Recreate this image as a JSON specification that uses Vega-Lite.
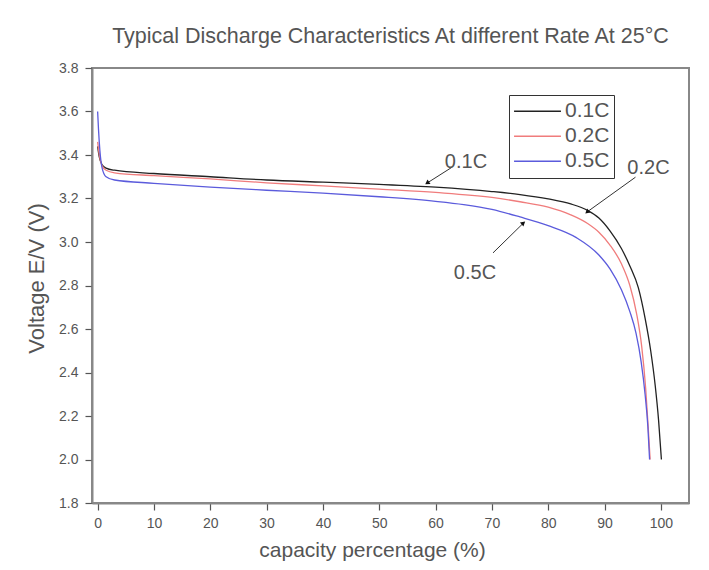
{
  "$schema": "https://vega.github.io/schema/vega-lite/v6.json",
  "autosize": "none",
  "width": 597,
  "height": 435,
  "padding": {"left": 92, "top": 68, "right": 20, "bottom": 67},
  "background": "white",
  "config": {
    "font": "Liberation Sans",
    "view": {"stroke": "#888", "strokeWidth": 2},
    "axis": {"grid": false, "domainColor": "#888", "domainWidth": 2, "tickColor": "#555", "tickWidth": 1.2, "labelColor": "#555", "labelFontSize": 14, "titleColor": "#555", "titleFontSize": 21, "titleFontWeight": "normal"}
  },
  "title": {"text": "Typical Discharge Characteristics At different Rate At 25°C", "fontSize": 21.5, "fontWeight": "normal", "color": "#555", "offset": 14},
  "datasets": {
    "curves": [
      {"rate": "0.1C", "cap": 0, "v": 3.44}, {"rate": "0.1C", "cap": 0.3, "v": 3.39}, {"rate": "0.1C", "cap": 0.8, "v": 3.355}, {"rate": "0.1C", "cap": 1.5, "v": 3.34}, {"rate": "0.1C", "cap": 3, "v": 3.33}, {"rate": "0.1C", "cap": 10, "v": 3.315}, {"rate": "0.1C", "cap": 20, "v": 3.3}, {"rate": "0.1C", "cap": 30, "v": 3.285}, {"rate": "0.1C", "cap": 40, "v": 3.275}, {"rate": "0.1C", "cap": 50, "v": 3.265}, {"rate": "0.1C", "cap": 60, "v": 3.252}, {"rate": "0.1C", "cap": 70, "v": 3.232}, {"rate": "0.1C", "cap": 75, "v": 3.218}, {"rate": "0.1C", "cap": 80, "v": 3.198}, {"rate": "0.1C", "cap": 84, "v": 3.175}, {"rate": "0.1C", "cap": 87, "v": 3.145}, {"rate": "0.1C", "cap": 89, "v": 3.11}, {"rate": "0.1C", "cap": 91, "v": 3.05}, {"rate": "0.1C", "cap": 93, "v": 2.97}, {"rate": "0.1C", "cap": 94.5, "v": 2.89}, {"rate": "0.1C", "cap": 96, "v": 2.79}, {"rate": "0.1C", "cap": 97.2, "v": 2.65}, {"rate": "0.1C", "cap": 98.2, "v": 2.5}, {"rate": "0.1C", "cap": 99, "v": 2.34}, {"rate": "0.1C", "cap": 99.6, "v": 2.18}, {"rate": "0.1C", "cap": 100.1, "v": 2.0},
      {"rate": "0.2C", "cap": 0, "v": 3.46}, {"rate": "0.2C", "cap": 0.3, "v": 3.4}, {"rate": "0.2C", "cap": 0.8, "v": 3.35}, {"rate": "0.2C", "cap": 1.5, "v": 3.33}, {"rate": "0.2C", "cap": 3, "v": 3.318}, {"rate": "0.2C", "cap": 10, "v": 3.305}, {"rate": "0.2C", "cap": 20, "v": 3.29}, {"rate": "0.2C", "cap": 30, "v": 3.272}, {"rate": "0.2C", "cap": 40, "v": 3.258}, {"rate": "0.2C", "cap": 50, "v": 3.243}, {"rate": "0.2C", "cap": 60, "v": 3.228}, {"rate": "0.2C", "cap": 70, "v": 3.205}, {"rate": "0.2C", "cap": 75, "v": 3.185}, {"rate": "0.2C", "cap": 80, "v": 3.16}, {"rate": "0.2C", "cap": 84, "v": 3.125}, {"rate": "0.2C", "cap": 87, "v": 3.085}, {"rate": "0.2C", "cap": 89, "v": 3.045}, {"rate": "0.2C", "cap": 91, "v": 2.985}, {"rate": "0.2C", "cap": 93, "v": 2.9}, {"rate": "0.2C", "cap": 94.5, "v": 2.8}, {"rate": "0.2C", "cap": 95.7, "v": 2.67}, {"rate": "0.2C", "cap": 96.6, "v": 2.52}, {"rate": "0.2C", "cap": 97.3, "v": 2.33}, {"rate": "0.2C", "cap": 97.8, "v": 2.13}, {"rate": "0.2C", "cap": 98.1, "v": 2.0},
      {"rate": "0.5C", "cap": 0, "v": 3.6}, {"rate": "0.5C", "cap": 0.15, "v": 3.52}, {"rate": "0.5C", "cap": 0.4, "v": 3.42}, {"rate": "0.5C", "cap": 0.8, "v": 3.34}, {"rate": "0.5C", "cap": 1.5, "v": 3.3}, {"rate": "0.5C", "cap": 3, "v": 3.285}, {"rate": "0.5C", "cap": 10, "v": 3.27}, {"rate": "0.5C", "cap": 20, "v": 3.252}, {"rate": "0.5C", "cap": 30, "v": 3.238}, {"rate": "0.5C", "cap": 40, "v": 3.225}, {"rate": "0.5C", "cap": 50, "v": 3.208}, {"rate": "0.5C", "cap": 60, "v": 3.187}, {"rate": "0.5C", "cap": 65, "v": 3.172}, {"rate": "0.5C", "cap": 70, "v": 3.15}, {"rate": "0.5C", "cap": 75, "v": 3.115}, {"rate": "0.5C", "cap": 80, "v": 3.075}, {"rate": "0.5C", "cap": 85, "v": 3.02}, {"rate": "0.5C", "cap": 89, "v": 2.94}, {"rate": "0.5C", "cap": 91, "v": 2.875}, {"rate": "0.5C", "cap": 93, "v": 2.78}, {"rate": "0.5C", "cap": 94.5, "v": 2.68}, {"rate": "0.5C", "cap": 95.6, "v": 2.58}, {"rate": "0.5C", "cap": 96.5, "v": 2.45}, {"rate": "0.5C", "cap": 97.2, "v": 2.3}, {"rate": "0.5C", "cap": 97.7, "v": 2.15}, {"rate": "0.5C", "cap": 98.0, "v": 2.0}
    ],
    "notes": [
      {"label": "0.1C", "tx": 65.4, "ty": 3.368, "x1": 63.0, "y1": 3.345, "x2": 58.5, "y2": 3.271, "ang": 235},
      {"label": "0.2C", "tx": 97.8, "ty": 3.34, "x1": 95.5, "y1": 3.298, "x2": 86.9, "y2": 3.138, "ang": 229},
      {"label": "0.5C", "tx": 67.0, "ty": 2.857, "x1": 70.2, "y1": 2.95, "x2": 75.6, "y2": 3.087, "ang": 49}
    ]
  },
  "layer": [
    {
      "data": {"name": "curves"},
      "mark": {"type": "line", "strokeWidth": 1.3, "interpolate": "monotone"},
      "encoding": {
        "x": {"field": "cap", "type": "quantitative", "scale": {"domain": [-1, 105], "nice": false, "zero": false},
          "axis": {"title": "capacity percentage (%)", "values": [0,5,10,15,20,25,30,35,40,45,50,55,60,65,70,75,80,85,90,95,100],
            "labelExpr": "datum.value % 10 === 0 ? datum.label : ''",
            "tickSize": {"condition": {"test": "datum.value % 10 === 0", "value": 7}, "value": 4},
            "labelPadding": 6, "titlePadding": 9, "titleX": 280}},
        "y": {"field": "v", "type": "quantitative", "scale": {"domain": [1.8, 3.8], "nice": false, "zero": false},
          "axis": {"title": "Voltage E/V (V)", "values": [1.8,1.9,2.0,2.1,2.2,2.3,2.4,2.5,2.6,2.7,2.8,2.9,3.0,3.1,3.2,3.3,3.4,3.5,3.6,3.7,3.8],
            "format": ".1f", "titleFontSize": 22,
            "labelExpr": "abs(datum.value*5 - round(datum.value*5)) < 0.01 ? datum.label : ''",
            "tickSize": {"condition": {"test": "abs(datum.value*5 - round(datum.value*5)) < 0.01", "value": 7}, "value": 4},
            "labelPadding": 7, "titlePadding": 10, "titleY": 210}},
        "color": {"field": "rate", "type": "nominal", "sort": ["0.1C", "0.2C", "0.5C"],
          "scale": {"domain": ["0.1C", "0.2C", "0.5C"], "range": ["#222222", "#f07c7c", "#5b5bdc"]},
          "legend": {"title": null, "orient": "none", "legendX": 417, "legendY": 27, "symbolType": "stroke", "symbolSize": 2200, "symbolStrokeWidth": 1.3,
            "labelFontSize": 21, "labelColor": "#555", "labelOffset": 3, "strokeColor": "#333", "padding": 4, "rowPadding": 0, "clipHeight": 24.5, "fillColor": "white"}}
      }
    },
    {
      "data": {"name": "notes"},
      "mark": {"type": "rule", "color": "#333", "strokeWidth": 1},
      "encoding": {"x": {"field": "x1", "type": "quantitative"}, "y": {"field": "y1", "type": "quantitative"}, "x2": {"field": "x2"}, "y2": {"field": "y2"}}
    },
    {
      "data": {"name": "notes"},
      "mark": {"type": "point", "shape": "triangle-up", "filled": true, "color": "#111", "size": 28, "opacity": 1},
      "encoding": {"x": {"field": "x2", "type": "quantitative"}, "y": {"field": "y2", "type": "quantitative"}, "angle": {"field": "ang", "type": "quantitative", "scale": null}}
    },
    {
      "data": {"name": "notes"},
      "mark": {"type": "text", "fontSize": 20, "color": "#555"},
      "encoding": {"x": {"field": "tx", "type": "quantitative"}, "y": {"field": "ty", "type": "quantitative"}, "text": {"field": "label"}}
    }
  ]
}
